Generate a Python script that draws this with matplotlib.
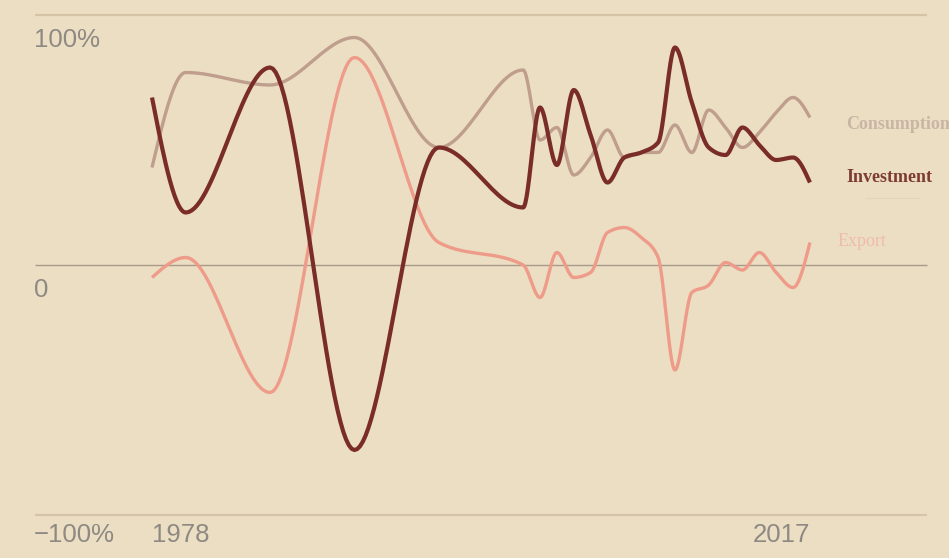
import numpy as np
import matplotlib
matplotlib.use("Agg")
import matplotlib.pyplot as plt

# Contribution to GDP growth (%), by component
years = [1978, 1980, 1985, 1990, 1995, 2000, 2001, 2002, 2003, 2004, 2005,
         2006, 2007, 2008, 2009, 2010, 2011, 2012, 2013, 2014, 2015, 2016, 2017]
consumption = [39, 77, 72, 91, 47, 78, 50, 55, 36, 43, 54,
               43, 45, 45, 56, 45, 62, 55, 47, 53, 61, 67, 59]
investment = [67, 21, 79, -74, 47, 23, 63, 40, 70, 52, 33,
              43, 45, 49, 87, 65, 47, 44, 55, 48, 42, 43, 33]
export = [-5, 3, -51, 83, 9, 0, -13, 5, -5, -3, 13,
          15, 11, 3, -42, -11, -8, 1, -2, 5, -3, -9, 9]

y_ticks = [100, 0, -100]
y_tick_labels = ["100%", "0", "\u2212100%"]
x_tick_labels = ["1978", "2017"]


def monotone_curve(x, y, n=30):
    """Monotone cubic (Fritsch-Carlson style) curve through the points."""
    x = np.asarray(x, float)
    y = np.asarray(y, float)
    h = np.diff(x)
    s = np.diff(y) / h
    m = np.zeros_like(y)
    for i in range(1, len(x) - 1):
        p = (s[i - 1] * h[i] + s[i] * h[i - 1]) / (h[i - 1] + h[i])
        m[i] = (np.sign(s[i - 1]) + np.sign(s[i])) * min(abs(s[i - 1]), abs(s[i]), 0.5 * abs(p))
    m[0] = (3 * s[0] - m[1]) / 2
    m[-1] = (3 * s[-1] - m[-2]) / 2
    xs, ys = [], []
    for i in range(len(x) - 1):
        t = np.linspace(0, 1, n, endpoint=(i == len(x) - 2))
        h00 = 2 * t**3 - 3 * t**2 + 1
        h10 = t**3 - 2 * t**2 + t
        h01 = -2 * t**3 + 3 * t**2
        h11 = t**3 - t**2
        xs.append(x[i] + t * h[i])
        ys.append(h00 * y[i] + h10 * h[i] * m[i] + h01 * y[i + 1] + h11 * h[i] * m[i + 1])
    return np.concatenate(xs), np.concatenate(ys)


bg = "#EBDEC3"
c_cons = "#BF9E8E"
c_inv = "#7A2C29"
c_exp = "#EE9C89"
c_text = "#8E8983"

fig = plt.figure(figsize=(9.49, 5.58), dpi=100)
fig.patch.set_facecolor(bg)
ax = fig.add_axes([0, 0, 1, 1])
ax.set_facecolor(bg)
for sp in ax.spines.values():
    sp.set_visible(False)
ax.set_xticks([])
ax.set_yticks([])

px_per_year = 16.87
x0 = 1978 - 152 / px_per_year
x1 = 1978 + (949 - 152) / px_per_year
ax.set_xlim(x0, x1)
ax.set_ylim(-(558 - 265) / 2.5, 265 / 2.5)

gx0 = 1978 - 117 / px_per_year
gx1 = 1978 + 775 / px_per_year
ax.hlines([y_ticks[0], y_ticks[2]], gx0, gx1, color="#D5C4A6", lw=1.6, zorder=1)
ax.hlines(y_ticks[1], gx0, gx1, color="#A89A8A", lw=1.0, zorder=1)

label_offsets = [-10, -10, -8]
for v, lab, off in zip(y_ticks, y_tick_labels, label_offsets):
    ax.text(gx0 - 0.05, v + off, lab, fontsize=18.5, color=c_text, ha="left", va="center",
            family="Liberation Sans")

ax.text(years[0], -108, x_tick_labels[0], fontsize=18.5, color=c_text, ha="left", va="center",
        family="Liberation Sans")
ax.text(years[-1], -108, x_tick_labels[1], fontsize=18.5, color=c_text, ha="right", va="center",
        family="Liberation Sans")

cx, cy = monotone_curve(years, consumption)
ax.plot(cx, cy, color=c_cons, lw=2.4, solid_capstyle="butt", zorder=2)
ex, ey = monotone_curve(years, export)
ax.plot(ex, ey, color=c_exp, lw=2.4, solid_capstyle="butt", zorder=3)
ix, iy = monotone_curve(years, investment)
ax.plot(ix, iy, color=c_inv, lw=3.0, solid_capstyle="butt", zorder=4)

lx = 1978 + (846 - 152) / px_per_year
ax.text(lx, (265 - 125) / 2.5, "Consumption", fontsize=13, color="#C9B5A4",
        family="Liberation Serif", weight="bold", ha="left", va="center")
ax.text(lx, (265 - 178) / 2.5, "Investment", fontsize=13, color="#7D3B34",
        family="Liberation Serif", weight="bold", ha="left", va="center")
ax.text(1978 + (838 - 152) / px_per_year, (265 - 242) / 2.5, "Export", fontsize=13,
        color="#F0BCAC", family="Liberation Serif", ha="left", va="center")
ax.hlines((265 - 198) / 2.5, 1978 + (865 - 152) / px_per_year, 1978 + (920 - 152) / px_per_year,
          color="#E2D5BC", lw=0.8)

fig.savefig("out.png", dpi=100, facecolor=bg)
